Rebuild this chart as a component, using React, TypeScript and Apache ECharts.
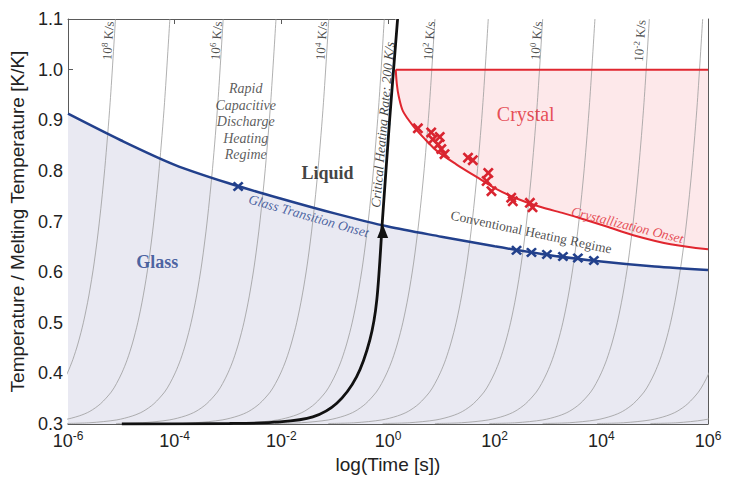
import React, { useEffect, useRef } from "react";
import * as echarts from "echarts";

const SANS = "'Liberation Sans', Arial, Helvetica, sans-serif";
const SERIF = "'Liberation Serif', 'Times New Roman', serif";

// Axes: x = log10(time [s]), y = T / Tm
const xMin = -6;
const xMax = 6;
const xStep = 2;
const yMin = 0.3;
const yMax = 1.1;
const yStep = 0.1;

// Glass transition onset (blue line)
const glassLogT = [-6, -5, -4, -3, -2, -1, 0, 1, 2, 3, 4, 5, 6];
const glassT = [0.913, 0.86, 0.812, 0.776, 0.745, 0.716, 0.69, 0.67, 0.651, 0.634, 0.621, 0.611, 0.604];

// Crystallization onset (red curve)
const crystLogT = [0.145, 0.165, 0.2, 0.28, 0.47, 0.7, 0.91, 1.28, 1.66, 2.0, 2.4, 2.85, 3.3, 3.65, 4.1, 4.6, 5.3, 6.0];
const crystT = [1.0, 0.972, 0.948, 0.918, 0.889, 0.862, 0.84, 0.813, 0.788, 0.766, 0.746, 0.729, 0.716, 0.705, 0.69, 0.673, 0.655, 0.645];
const meltLevel = 1.0;

// Critical heating rate 200 K/s (black curve)
const criticalLogT = [-4.99, -2.97, -2.03, -1.41, -0.96, -0.59, -0.34, -0.21, -0.1, 0.03, 0.18];
const criticalT = [0.3, 0.301, 0.304, 0.314, 0.341, 0.393, 0.466, 0.545, 0.709, 0.9, 1.1];
const arrowLogT = -0.1;
const arrowT = 0.681;

// Measured crystallization onsets (red crosses)
const crystPtsLogT = [0.56, 0.81, 0.97, 0.84, 0.94, 1.0, 1.06, 1.5, 1.59, 1.88, 1.85, 1.94, 2.31, 2.34, 2.66, 2.71];
const crystPtsT = [0.884, 0.876, 0.867, 0.862, 0.852, 0.843, 0.833, 0.826, 0.821, 0.796, 0.78, 0.76, 0.747, 0.74, 0.737, 0.728];

// Measured glass transition onsets (blue crosses)
const glassPtsLogT = [-2.81, 2.41, 2.69, 2.98, 3.28, 3.56, 3.86];
const glassPtsT = [0.769, 0.643, 0.639, 0.635, 0.631, 0.628, 0.623];

// Constant heating-rate curves (thin grey): common shape relative to the point where each reaches T = 1.1
const rateShapeDL = [-3, -2.5, -2, -1.7, -1.5, -1.3, -1.1, -1, -0.9, -0.8, -0.7, -0.6, -0.5, -0.4, -0.3, -0.2, -0.1, 0];
const rateShapeT = [0.301, 0.3025, 0.308, 0.316, 0.325, 0.34, 0.363, 0.38, 0.401, 0.427, 0.46, 0.501, 0.553, 0.618, 0.701, 0.805, 0.935, 1.1];
const rateCurveTopLogT = [-5.11, -4.09, -3.09, -2.1, -1.11, -0.07, 0.88, 1.88, 2.9, 3.88, 4.9, 5.9, 6.92, 7.92];

// Rate labels
const rateLabelExp = ["8", "6", "4", "2", "0", "-2"];
const rateLabelLogT = [-5.25, -3.22, -1.25, 0.77, 2.78, 4.72];
const rateLabelT = 1.057;

const BLUE = "#22408c";
const RED = "#e0262f";
const GREY_LINE = "#9c9c9c";

export default function App() {
  const ref = useRef<HTMLDivElement>(null);

  useEffect(() => {
    document.body.style.margin = "0";
    if (!ref.current) return;
    const chart = echarts.init(ref.current, undefined, { renderer: "svg" });

    const pairs = (xs: number[], ys: number[]) => xs.map((x, i) => [x, ys[i]]);

    const thinSeries = rateCurveTopLogT.map((top) => ({
      type: "line",
      data: rateShapeDL.map((d, i) => [top + d, rateShapeT[i]]),
      smooth: 0.3,
      symbol: "none",
      silent: true,
      clip: true,
      lineStyle: { color: GREY_LINE, width: 0.8 },
    }));

    const crossPath =
      "path://M0,1.7L1.7,0L5,3.3L8.3,0L10,1.7L6.7,5L10,8.3L8.3,10L5,6.7L1.7,10L0,8.3L3.3,5Z";
    const trianglePath = "path://M5,0L10,13L0,13Z";

    const textItem = (
      l: number,
      t: number,
      formatter: string,
      style: Record<string, unknown>
    ) => ({
      value: [l, t],
      label: { show: true, position: "inside", formatter, ...style },
    });

    const rateRich = {
      a: { fontFamily: SERIF, fontSize: 13, lineHeight: 15, color: "#222" },
      s: { fontFamily: SERIF, fontSize: 9, lineHeight: 9, verticalAlign: "top", color: "#222" },
    };

    const labelData = [
      ...rateLabelExp.map((e, i) =>
        textItem(rateLabelLogT[i], rateLabelT, `{a|10}{s|${e}}{a| K/s}`, { rotate: 86, rich: rateRich })
      ),
      textItem(-2.668, 0.8966, "Rapid\nCapacitive\nDischarge\nHeating\nRegime", {
        fontFamily: SERIF, fontStyle: "italic", fontSize: 14, lineHeight: 16.5, color: "#333", align: "center",
      }),
      textItem(-1.134, 0.796, "Liquid", { fontFamily: SERIF, fontWeight: "bold", fontSize: 18, color: "#111" }),
      textItem(-4.327, 0.62, "Glass", { fontFamily: SERIF, fontWeight: "bold", fontSize: 18, color: BLUE }),
      textItem(2.583, 0.912, "Crystal", { fontFamily: SERIF, fontSize: 20, color: RED }),
      textItem(-1.487, 0.711, "Glass Transition Onset", {
        fontFamily: SERIF, fontStyle: "italic", fontSize: 13.5, color: BLUE, rotate: -16,
      }),
      textItem(2.686, 0.679, "Conventional Heating Regime", {
        fontFamily: SERIF, fontSize: 13.5, color: "#222", rotate: -12,
      }),
      textItem(4.49, 0.693, "Crystallization Onset", {
        fontFamily: SERIF, fontStyle: "italic", fontSize: 13.5, color: RED, rotate: -14,
      }),
      textItem(-0.1, 0.891, "Critical Heating Rate: 200 K/s", {
        fontFamily: SERIF, fontStyle: "italic", fontSize: 13.5, color: "#111", rotate: 85,
      }),
    ];

    const axisLineStyle = { color: "#5a5a5a", width: 1 };

    const option = {
      animation: false,
      backgroundColor: "#ffffff",
      grid: { left: 68, right: 28, top: 19, bottom: 55 },
      xAxis: [
        {
          type: "value",
          min: xMin,
          max: xMax,
          interval: xStep,
          position: "bottom",
          axisLine: { show: true, onZero: false, lineStyle: axisLineStyle },
          axisTick: { show: true, inside: true, length: 5, lineStyle: axisLineStyle },
          splitLine: { show: false },
          axisLabel: {
            margin: 6,
            formatter: (v: number) => `{b|10}{s|${v}}`,
            rich: {
              b: { fontFamily: SANS, fontSize: 18, lineHeight: 22, color: "#222" },
              s: { fontFamily: SANS, fontSize: 12, lineHeight: 12, verticalAlign: "top", color: "#222" },
            },
          },
          name: "log(Time [s])",
          nameLocation: "middle",
          nameGap: 30,
          nameTextStyle: { fontFamily: SANS, fontSize: 19, color: "#222" },
        },
        {
          type: "value",
          min: xMin,
          max: xMax,
          interval: xStep,
          position: "top",
          axisLine: { show: true, onZero: false, lineStyle: axisLineStyle },
          axisTick: { show: true, inside: true, length: 5, lineStyle: axisLineStyle },
          axisLabel: { show: false },
          splitLine: { show: false },
        },
      ],
      yAxis: [
        {
          type: "value",
          min: yMin,
          max: yMax,
          interval: yStep,
          position: "left",
          axisLine: { show: true, onZero: false, lineStyle: axisLineStyle },
          axisTick: { show: true, inside: true, length: 5, lineStyle: axisLineStyle },
          splitLine: { show: false },
          axisLabel: {
            margin: 5,
            fontFamily: SANS,
            fontSize: 18,
            color: "#222",
            formatter: (v: number) => v.toFixed(1),
          },
          name: "Temperature / Melting Temperature [K/K]",
          nameLocation: "middle",
          nameGap: 36,
          nameTextStyle: { fontFamily: SANS, fontSize: 19, color: "#222" },
        },
        {
          type: "value",
          min: yMin,
          max: yMax,
          interval: yStep,
          position: "right",
          axisLine: { show: true, onZero: false, lineStyle: axisLineStyle },
          axisTick: { show: true, inside: true, length: 5, lineStyle: axisLineStyle },
          axisLabel: { show: false },
          splitLine: { show: false },
        },
      ],
      series: [
        // glass region fill
        {
          type: "line",
          data: pairs(glassLogT, glassT),
          smooth: 0.3,
          symbol: "none",
          silent: true,
          lineStyle: { opacity: 0 },
          areaStyle: { color: "#e9e9f2", opacity: 1, origin: "start" },
        },
        // crystal region fill (curve up to the top), then cleared above Tm
        {
          type: "line",
          data: pairs(crystLogT, crystT),
          smooth: 0.3,
          symbol: "none",
          silent: true,
          lineStyle: { opacity: 0 },
          areaStyle: { color: "#fde8ea", opacity: 1, origin: "end" },
        },
        {
          type: "line",
          data: [
            [crystLogT[0], meltLevel],
            [crystLogT[crystLogT.length - 1], meltLevel],
          ],
          symbol: "none",
          silent: true,
          lineStyle: { opacity: 0 },
          areaStyle: { color: "#ffffff", opacity: 1, origin: "end" },
        },
        ...thinSeries,
        // Tm line
        {
          type: "line",
          data: [
            [crystLogT[0], meltLevel],
            [crystLogT[crystLogT.length - 1], meltLevel],
          ],
          symbol: "none",
          silent: true,
          lineStyle: { color: RED, width: 2 },
        },
        {
          type: "line",
          data: pairs(crystLogT, crystT),
          smooth: 0.3,
          symbol: "none",
          silent: true,
          lineStyle: { color: RED, width: 2 },
        },
        {
          type: "line",
          data: pairs(glassLogT, glassT),
          smooth: 0.3,
          symbol: "none",
          silent: true,
          lineStyle: { color: BLUE, width: 2.5 },
        },
        {
          type: "line",
          data: pairs(criticalLogT, criticalT),
          smooth: 0.3,
          symbol: "none",
          silent: true,
          lineStyle: { color: "#111", width: 2.8 },
        },
        {
          type: "scatter",
          data: pairs(crystPtsLogT, crystPtsT),
          symbol: crossPath,
          symbolSize: 11,
          silent: true,
          z: 5,
          itemStyle: { color: "#d92430", opacity: 1 },
        },
        {
          type: "scatter",
          data: pairs(glassPtsLogT, glassPtsT),
          symbol: crossPath,
          symbolSize: [11, 10],
          silent: true,
          z: 5,
          itemStyle: { color: BLUE, opacity: 1 },
        },
        {
          type: "scatter",
          data: [[arrowLogT, arrowT]],
          symbol: trianglePath,
          symbolSize: [11, 14],
          silent: true,
          z: 6,
          itemStyle: { color: "#111", opacity: 1 },
        },
        {
          type: "scatter",
          data: labelData,
          symbolSize: 1,
          silent: true,
          itemStyle: { color: "rgba(0,0,0,0)" },
          z: 10,
        },
      ],
    };

    chart.setOption(option as any);
    return () => chart.dispose();
  }, []);

  return <div ref={ref} style={{ width: 736, height: 479 }} />;
}
